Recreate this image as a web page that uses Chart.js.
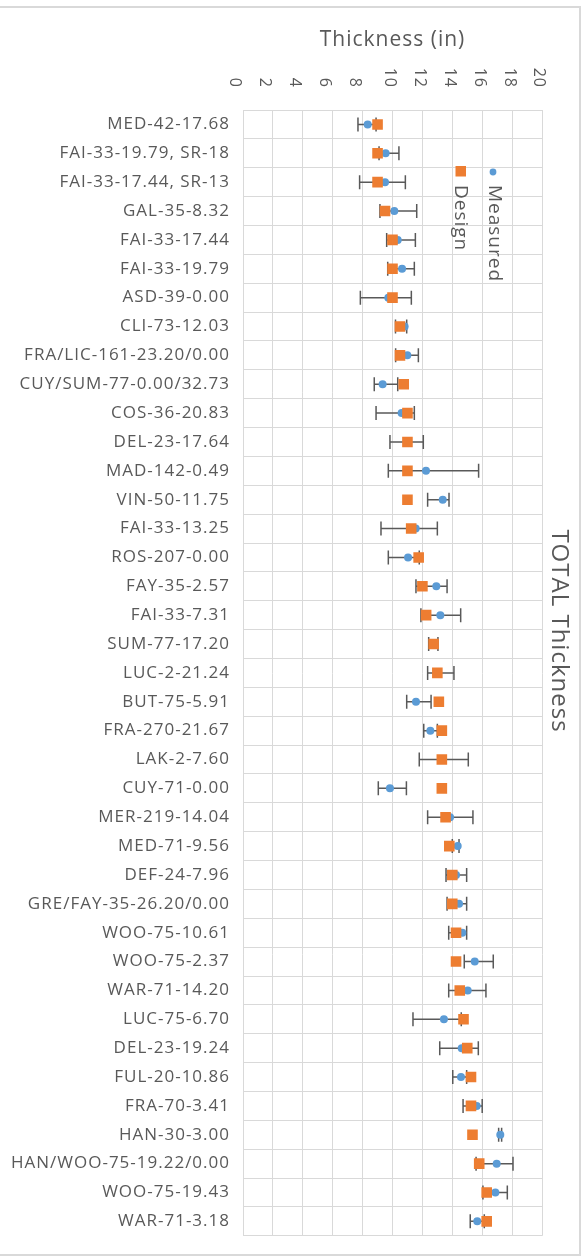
<!DOCTYPE html>
<html>
<head>
<meta charset="utf-8">
<script src="https://cdn.jsdelivr.net/npm/chart.js@4"></script>
<style>
html, body { margin: 0; padding: 0; background: #fff; }
#wrap { position: relative; width: 582px; height: 1259px; overflow: hidden; }
#frame { position: absolute; left: -3px; top: 6px; width: 580px; height: 1246px; border: 2px solid #d9d9d9; pointer-events: none; }
canvas { position: absolute; left: 0; top: 0; }
</style>
</head>
<body>
<div id="wrap">
    <canvas id="thicknessChart" width="582" height="1259"></canvas>
    <div id="frame"></div>
</div>
<script>
const categories = [
    'MED-42-17.68', 'FAI-33-19.79, SR-18', 'FAI-33-17.44, SR-13', 'GAL-35-8.32', 'FAI-33-17.44',
    'FAI-33-19.79', 'ASD-39-0.00', 'CLI-73-12.03', 'FRA/LIC-161-23.20/0.00', 'CUY/SUM-77-0.00/32.73',
    'COS-36-20.83', 'DEL-23-17.64', 'MAD-142-0.49', 'VIN-50-11.75', 'FAI-33-13.25',
    'ROS-207-0.00', 'FAY-35-2.57', 'FAI-33-7.31', 'SUM-77-17.20', 'LUC-2-21.24',
    'BUT-75-5.91', 'FRA-270-21.67', 'LAK-2-7.60', 'CUY-71-0.00', 'MER-219-14.04',
    'MED-71-9.56', 'DEF-24-7.96', 'GRE/FAY-35-26.20/0.00', 'WOO-75-10.61', 'WOO-75-2.37',
    'WAR-71-14.20', 'LUC-75-6.70', 'DEL-23-19.24', 'FUL-20-10.86', 'FRA-70-3.41',
    'HAN-30-3.00', 'HAN/WOO-75-19.22/0.00', 'WOO-75-19.43', 'WAR-71-3.18'
];

const design = [
    9.0, 9.0, 9.0, 9.5, 10.0, 10.0, 10.0, 10.5, 10.5, 10.75,
    11.0, 11.0, 11.0, 11.0, 11.25, 11.75, 12.0, 12.25, 12.75, 13.0,
    13.1, 13.3, 13.3, 13.3, 13.55, 13.8, 14.0, 14.0, 14.25, 14.25,
    14.5, 14.75, 15.0, 15.25, 15.25, 15.35, 15.8, 16.3, 16.3
];

const measured = [
    8.34, 9.54, 9.5, 10.12, 10.35, 10.64, 9.72, 10.81, 10.99, 9.34,
    10.61, 10.95, 12.24, 13.36, 11.55, 11.04, 12.93, 13.2, 12.75, 13.05,
    11.57, 12.53, 13.3, 9.83, 13.85, 14.36, 14.25, 14.45, 14.67, 15.5,
    15.03, 13.44, 14.63, 14.58, 15.63, 17.21, 16.97, 16.88, 15.67
];

const measuredMin = [
    7.69, 9.1, 7.8, 9.16, 9.61, 9.68, 7.85, 10.2, 10.21, 8.78,
    8.9, 9.83, 9.72, 12.35, 9.23, 9.72, 11.57, 11.9, 12.42, 12.35,
    10.95, 12.09, 11.79, 9.05, 12.35, 14.0, 13.58, 13.65, 13.76, 14.8,
    13.76, 11.37, 13.16, 14.03, 14.72, 17.1, 15.59, 16.05, 15.2
];

const measuredMax = [
    8.9, 10.43, 10.86, 11.62, 11.53, 11.46, 11.26, 10.95, 11.73, 10.35,
    11.46, 12.06, 15.76, 13.78, 13.0, 11.79, 13.65, 14.56, 13.04, 14.11,
    12.58, 13.0, 15.07, 10.93, 15.38, 14.45, 14.96, 14.96, 14.96, 16.74,
    16.25, 14.6, 15.74, 14.96, 16.0, 17.3, 18.06, 17.68, 16.14
];

const xTitle = 'Thickness (in)';
const sideTitle = 'TOTAL Thickness';

const textGray = '#595959';
const gridGray = '#d9d9d9';
const designColor = '#ed7d31';
const measuredColor = '#5b9bd5';
const family = "'Open Sans', sans-serif";

const ctx = document.getElementById('thicknessChart').getContext('2d');

const thicknessChart = new Chart(ctx, {
    type: 'scatter',
    data: {
        datasets: [{
            label: 'Design',
            data: categories.map((c, i) => ({ x: design[i], y: c })),
            pointStyle: 'rect',
            pointRadius: 7.5,
            pointBackgroundColor: designColor,
            pointBorderWidth: 0,
            order: 0
        }, {
            label: 'Measured',
            data: categories.map((c, i) => ({ x: measured[i], y: c })),
            pointStyle: 'circle',
            pointRadius: 4,
            pointBackgroundColor: measuredColor,
            pointBorderWidth: 0,
            order: 1
        }]
    },
    options: {
        responsive: false,
        animation: false,
        devicePixelRatio: 1,
        events: [],
        layout: {
            padding: { left: 0, top: 0, right: 40, bottom: 18 }
        },
        plugins: {
            legend: { display: false },
            tooltip: { enabled: false }
        },
        scales: {
            x: {
                type: 'linear',
                position: 'top',
                min: 0,
                max: 20,
                ticks: { stepSize: 2, display: false },
                grid: { color: gridGray, drawTicks: false },
                border: { color: gridGray },
                title: {
                    display: true,
                    text: xTitle,
                    color: textGray,
                    font: { family: family, size: 21 },
                    padding: { top: 27, bottom: 0 }
                },
                afterFit: scale => { scale.height = 110; }
            },
            y: {
                type: 'category',
                labels: categories,
                offset: true,
                grid: { offset: true, color: gridGray, drawTicks: false },
                border: { color: gridGray },
                ticks: {
                    color: textGray,
                    font: { family: family, size: 17 },
                    padding: 13,
                    autoSkip: false
                },
                afterFit: scale => { scale.width = 243; }
            }
        }
    },
    plugins: [{
        id: 'spacing',
        beforeDraw: chart => {
            chart.ctx.letterSpacing = '1px';
        }
    }, {
        // min / max range of the measured values
        id: 'measuredRange',
        beforeDatasetsDraw: chart => {
            const { ctx, scales } = chart;
            ctx.save();
            ctx.strokeStyle = textGray;
            ctx.lineWidth = 1.5;
            categories.forEach((c, i) => {
                const yy = scales.y.getPixelForValue(i);
                const x1 = scales.x.getPixelForValue(measuredMin[i]);
                const x2 = scales.x.getPixelForValue(measuredMax[i]);
                ctx.beginPath();
                ctx.moveTo(x1, yy);
                ctx.lineTo(x2, yy);
                ctx.moveTo(x1, yy - 7);
                ctx.lineTo(x1, yy + 7);
                ctx.moveTo(x2, yy - 7);
                ctx.lineTo(x2, yy + 7);
                ctx.stroke();
            });
            ctx.restore();
        }
    }, {
        // rotated texts: x tick labels, side title, legend
        id: 'rotatedText',
        afterDraw: chart => {
            const { ctx, scales } = chart;
            ctx.save();
            ctx.fillStyle = textGray;

            ctx.font = '16px ' + family;
            ctx.textAlign = 'right';
            ctx.textBaseline = 'middle';
            scales.x.ticks.forEach(t => {
                const label = String(t.value);
                const px = scales.x.getPixelForValue(t.value) + (label.length === 1 ? -8 : -3);
                ctx.save();
                ctx.translate(px, 88);
                ctx.rotate(Math.PI / 2);
                ctx.fillText(label, 0, 0);
                ctx.restore();
            });

            ctx.font = '24px ' + family;
            ctx.textAlign = 'center';
            ctx.save();
            ctx.translate(559, 631);
            ctx.rotate(Math.PI / 2);
            ctx.fillText(sideTitle, 0, 0);
            ctx.restore();

            // legend
            const items = [
                { text: 'Measured', x: 494, style: 'circle' },
                { text: 'Design', x: 460, style: 'rect' }
            ];
            ctx.font = '19px ' + family;
            ctx.textAlign = 'left';
            items.forEach(item => {
                if (item.style === 'circle') {
                    ctx.fillStyle = measuredColor;
                    ctx.beginPath();
                    ctx.arc(item.x - 1, 172, 3.4, 0, Math.PI * 2);
                    ctx.fill();
                } else {
                    ctx.fillStyle = designColor;
                    ctx.fillRect(item.x - 4.5, 166, 10.5, 10.5);
                }
                ctx.fillStyle = textGray;
                ctx.save();
                ctx.translate(item.x, 185);
                ctx.rotate(Math.PI / 2);
                ctx.fillText(item.text, 0, 0);
                ctx.restore();
            });
            ctx.restore();
        }
    }]
});
</script>
</body>
</html>
